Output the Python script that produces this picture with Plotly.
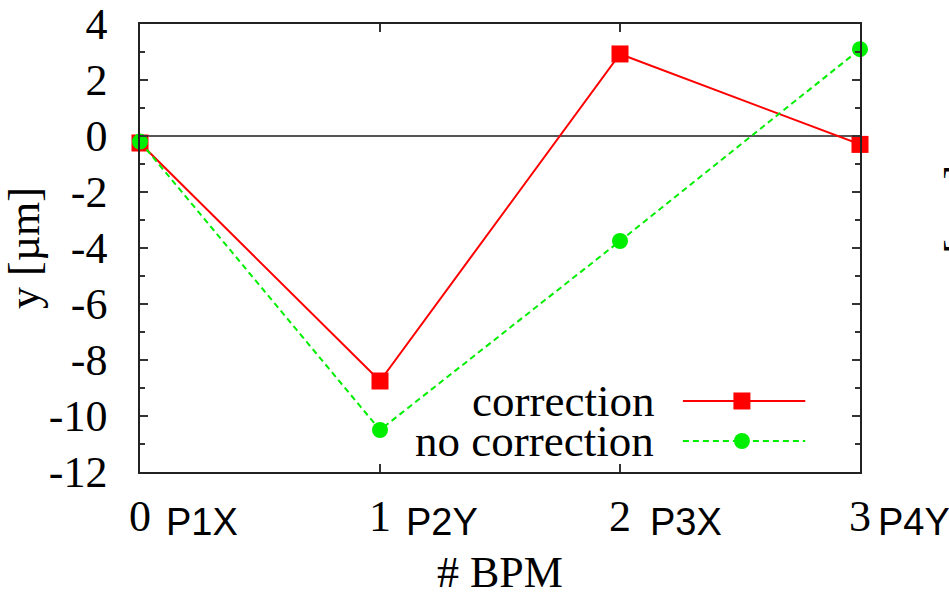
import plotly.graph_objects as go

# BPM index and labels
bpm = [0, 1, 2, 3]
bpm_names = ["P1X", "P2Y", "P3X", "P4Y"]
tick_text = ["0", "1", "2", "3"]

# y axis ticks (plain hyphen minus signs)
y_ticks = [-12, -10, -8, -6, -4, -2, 0, 2, 4]
y_tick_text = ["-12", "-10", "-8", "-6", "-4", "-2", "0", "2", "4"]

# Vertical offsets at each BPM [µm]
y_correction = [-0.25, -8.75, 2.93, -0.3]
y_no_correction = [-0.2, -10.5, -3.75, 3.1]

RED = "#ff0000"
GREEN = "#00ee00"
SERIF = "Liberation Serif, Times New Roman, serif"
SANS = "Liberation Sans, Arial, sans-serif"

fig = go.Figure()

fig.add_trace(go.Scatter(
    x=bpm, y=y_correction, mode="lines+markers", name="correction",
    line=dict(color=RED, width=2),
    marker=dict(symbol="square", size=17, color=RED),
    cliponaxis=False, showlegend=False,
))
fig.add_trace(go.Scatter(
    x=bpm, y=y_no_correction, mode="lines+markers", name="no correction",
    line=dict(color=GREEN, width=2, dash="6px,4px"),
    marker=dict(symbol="circle", size=16, color=GREEN),
    cliponaxis=False, showlegend=False,
))

# Hand-drawn key (text left of sample) on an overlay axis in plot fractions
key_x = [0.754, 0.924]
key_mid = 0.836
key_rows = [0.1585, 0.0692]
for (name, color, dash, sym, msize), ky in zip(
        [("correction", RED, "solid", "square", 17),
         ("no correction", GREEN, "6px,4px", "circle", 16)], key_rows):
    fig.add_trace(go.Scatter(
        x=key_x, y=[ky, ky], mode="lines", xaxis="x2", yaxis="y2",
        line=dict(color=color, width=2, dash=dash), showlegend=False,
        hoverinfo="skip",
    ))
    fig.add_trace(go.Scatter(
        x=[key_mid], y=[ky], mode="markers", xaxis="x2", yaxis="y2",
        marker=dict(symbol=sym, size=msize, color=color), showlegend=False,
        hoverinfo="skip", cliponaxis=False,
    ))
    fig.add_annotation(
        x=0.716, y=ky, xref="x2", yref="y2", text=name, showarrow=False,
        xanchor="right", yanchor="middle",
        font=dict(family=SERIF, size=45, color="black"),
    )

# BPM names next to the index ticks
name_shift = [24, 24, 28, 16]
for i, nm in enumerate(bpm_names):
    fig.add_annotation(
        x=bpm[i], y=-0.112, xref="x", yref="paper", text=nm, showarrow=False,
        xanchor="left", yanchor="middle", xshift=name_shift[i],
        font=dict(family=SANS, size=38, color="black"),
    )

# label of the neighbouring panel, mostly off-canvas
fig.add_annotation(
    x=1.176, y=0.55, xref="paper", yref="paper", text="y [µm]",
    showarrow=False, textangle=-90,
    font=dict(family=SERIF, size=44, color="black"),
)

fig.update_layout(
    width=949, height=597,
    margin=dict(l=140, r=89, t=24, b=125),
    paper_bgcolor="white", plot_bgcolor="white",
    font=dict(family=SERIF, size=44, color="black"),
    xaxis=dict(
        range=[0, 3], tickvals=bpm, ticktext=tick_text,
        ticks="inside", ticklen=8, tickwidth=1.5, tickcolor="#333",
        showline=True, linecolor="#222", linewidth=1.5, mirror="allticks",
        showgrid=False, zeroline=False, automargin=False,
        ticklabelstandoff=4,
        title=dict(text="# BPM", font=dict(family=SERIF, size=44), standoff=22),
    ),
    yaxis=dict(
        range=[-12, 4], tickvals=y_ticks, ticktext=y_tick_text,
        ticks="inside", ticklen=8, tickwidth=1.5, tickcolor="#333",
        minor=dict(ticks="inside", ticklen=5, dtick=1, tickcolor="#333",
                   tickwidth=1.5, showgrid=False),
        showline=True, linecolor="#222", linewidth=1.5, mirror="allticks",
        showgrid=False, automargin=False,
        zeroline=True, zerolinecolor="#555", zerolinewidth=1.5,
        ticklabelstandoff=22,
        title=dict(text="y [µm]", font=dict(family=SERIF, size=44), standoff=8),
    ),
    xaxis2=dict(range=[0, 1], overlaying="x", visible=False),
    yaxis2=dict(range=[0, 1], overlaying="y", visible=False),
)

fig.write_html("out.html")
